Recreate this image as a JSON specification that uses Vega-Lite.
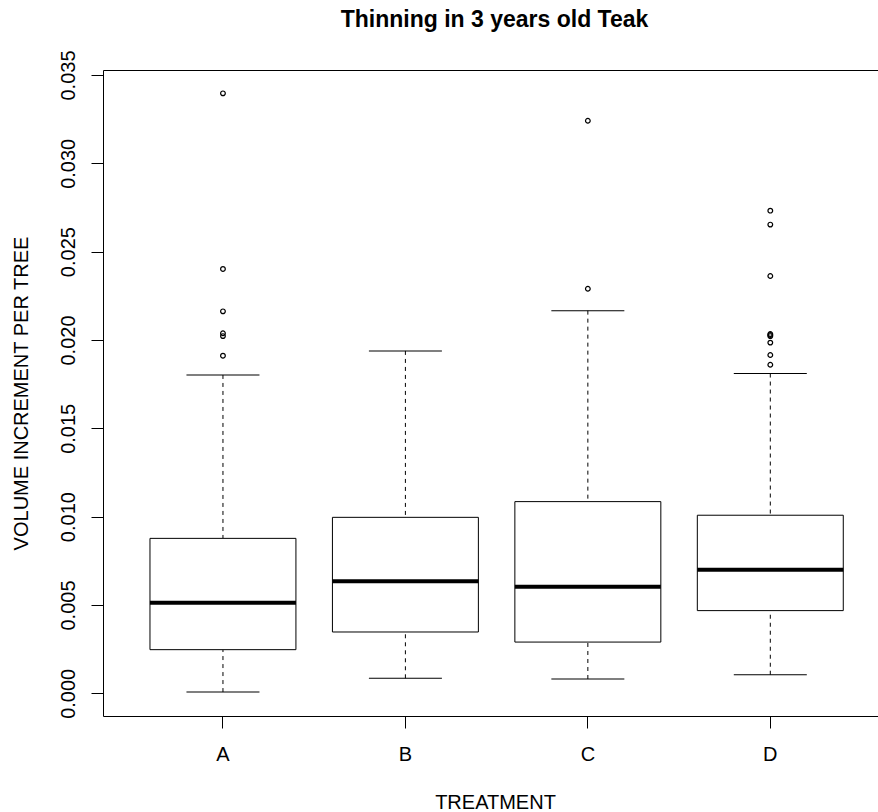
{
  "$schema": "https://vega.github.io/schema/vega-lite/v6.json",
  "description": "Thinning in 3 years old Teak: volume increment per tree by treatment",
  "width": 775,
  "height": 646,
  "autosize": {"type": "none"},
  "padding": {"left": 103, "top": 70, "right": 0, "bottom": 96},
  "background": "white",
  "title": {
    "text": "Thinning in 3 years old Teak",
    "font": "Liberation Sans",
    "fontSize": 23,
    "fontWeight": "bold",
    "color": "black",
    "anchor": "middle",
    "frame": "group",
    "baseline": "alphabetic",
    "offset": 0,
    "dx": 4
  },
  "datasets": {
    "stats": [
      {"treatment": "A", "lower": 0.00007, "q1": 0.00247, "median": 0.00513, "q3": 0.00877, "upper": 0.01802},
      {"treatment": "B", "lower": 0.00085, "q1": 0.00347, "median": 0.00634, "q3": 0.00996, "upper": 0.01938},
      {"treatment": "C", "lower": 0.00081, "q1": 0.00290, "median": 0.00603, "q3": 0.01085, "upper": 0.02166},
      {"treatment": "D", "lower": 0.00105, "q1": 0.00468, "median": 0.00700, "q3": 0.01008, "upper": 0.01810}
    ],
    "outliers": [
      {"treatment": "A", "value": 0.03396},
      {"treatment": "A", "value": 0.02402},
      {"treatment": "A", "value": 0.02162},
      {"treatment": "A", "value": 0.02038},
      {"treatment": "A", "value": 0.02022},
      {"treatment": "A", "value": 0.01911},
      {"treatment": "C", "value": 0.03241},
      {"treatment": "C", "value": 0.02290},
      {"treatment": "D", "value": 0.02732},
      {"treatment": "D", "value": 0.02653},
      {"treatment": "D", "value": 0.02362},
      {"treatment": "D", "value": 0.02034},
      {"treatment": "D", "value": 0.02028},
      {"treatment": "D", "value": 0.02022},
      {"treatment": "D", "value": 0.01985},
      {"treatment": "D", "value": 0.01915},
      {"treatment": "D", "value": 0.01860}
    ]
  },
  "layer": [
    {
      "data": {"name": "stats"},
      "mark": {"type": "rule", "color": "black", "strokeWidth": 1, "strokeDash": [4, 4]},
      "encoding": {
        "x": {"field": "treatment", "type": "nominal", "axis": null,
              "scale": {"type": "band", "paddingInner": 0.2, "paddingOuter": 0.2239, "align": 0.575}},
        "y": {"field": "upper", "type": "quantitative", "title": "VOLUME INCREMENT PER TREE",
              "scale": {"domain": [-0.001285, 0.035282], "nice": false, "zero": false}},
        "y2": {"field": "q3"}
      }
    },
    {
      "data": {"name": "stats"},
      "mark": {"type": "rule", "color": "black", "strokeWidth": 1, "strokeDash": [4, 4]},
      "encoding": {
        "x": {"field": "treatment", "type": "nominal", "axis": null},
        "y": {"field": "lower", "type": "quantitative", "title": "VOLUME INCREMENT PER TREE",
              "scale": {"domain": [-0.001285, 0.035282], "nice": false, "zero": false}},
        "y2": {"field": "q1"}
      }
    },
    {
      "data": {"name": "stats"},
      "mark": {"type": "tick", "color": "black", "size": 73, "thickness": 1, "opacity": 1},
      "encoding": {
        "x": {"field": "treatment", "type": "nominal", "axis": null},
        "y": {"field": "upper", "type": "quantitative", "title": "VOLUME INCREMENT PER TREE",
              "scale": {"domain": [-0.001285, 0.035282], "nice": false, "zero": false}}
      }
    },
    {
      "data": {"name": "stats"},
      "mark": {"type": "tick", "color": "black", "size": 73, "thickness": 1, "opacity": 1},
      "encoding": {
        "x": {"field": "treatment", "type": "nominal", "axis": null},
        "y": {"field": "lower", "type": "quantitative", "title": "VOLUME INCREMENT PER TREE",
              "scale": {"domain": [-0.001285, 0.035282], "nice": false, "zero": false}}
      }
    },
    {
      "data": {"name": "stats"},
      "mark": {"type": "bar", "fill": "white", "stroke": "black", "strokeWidth": 1, "opacity": 1},
      "encoding": {
        "x": {
          "field": "treatment", "type": "nominal", "title": "TREATMENT",
          "axis": {
            "orient": "bottom",
            "domain": true, "domainColor": "black", "domainWidth": 1,
            "ticks": true, "tickColor": "black", "tickSize": 12, "tickWidth": 1,
            "labelAngle": 0, "labelFont": "Liberation Sans", "labelFontSize": 20, "labelColor": "black",
            "labelBaseline": "alphabetic", "labelPadding": 32,
            "titleFont": "Liberation Sans", "titleFontSize": 20, "titleFontWeight": "normal", "titleColor": "black",
            "titleBaseline": "alphabetic", "titleAlign": "center", "titleX": 392, "titleY": 92
          }
        },
        "y": {
          "field": "q1", "type": "quantitative", "title": "VOLUME INCREMENT PER TREE",
          "scale": {"domain": [-0.001285, 0.035282], "nice": false, "zero": false},
          "axis": {
            "values": [0, 0.005, 0.01, 0.015, 0.02, 0.025, 0.03, 0.035],
            "format": ".3f", "grid": false,
            "domain": true, "domainColor": "black", "domainWidth": 1,
            "tickColor": "black", "tickSize": 12, "tickWidth": 1,
            "labelFont": "Liberation Sans", "labelFontSize": 20, "labelColor": "black",
            "labelAngle": -90, "labelAlign": "center", "labelBaseline": "alphabetic", "labelPadding": 17,
            "labelOverlap": false,
            "titleFont": "Liberation Sans", "titleFontSize": 20, "titleFontWeight": "normal", "titleColor": "black",
            "titleAngle": -90, "titleBaseline": "alphabetic", "titleAlign": "center", "titleX": -76, "titleY": 323
          }
        },
        "y2": {"field": "q3"}
      }
    },
    {
      "data": {"name": "stats"},
      "mark": {"type": "tick", "color": "black", "size": 146, "thickness": 4, "opacity": 1},
      "encoding": {
        "x": {
          "field": "treatment", "type": "nominal",
          "axis": {"orient": "top", "labels": false, "ticks": false, "title": null,
                   "domain": true, "domainColor": "black", "domainWidth": 1}
        },
        "y": {"field": "median", "type": "quantitative", "title": "VOLUME INCREMENT PER TREE",
              "scale": {"domain": [-0.001285, 0.035282], "nice": false, "zero": false}}
      }
    },
    {
      "data": {"name": "outliers"},
      "mark": {"type": "point", "shape": "circle", "filled": false, "color": "black", "strokeWidth": 1.2, "size": 22, "opacity": 1},
      "encoding": {
        "x": {"field": "treatment", "type": "nominal", "axis": null},
        "y": {"field": "value", "type": "quantitative", "title": "VOLUME INCREMENT PER TREE",
              "scale": {"domain": [-0.001285, 0.035282], "nice": false, "zero": false}}
      }
    }
  ],
  "resolve": {"axis": {"x": "independent"}},
  "config": {
    "view": {"stroke": null},
    "font": "Liberation Sans"
  }
}
